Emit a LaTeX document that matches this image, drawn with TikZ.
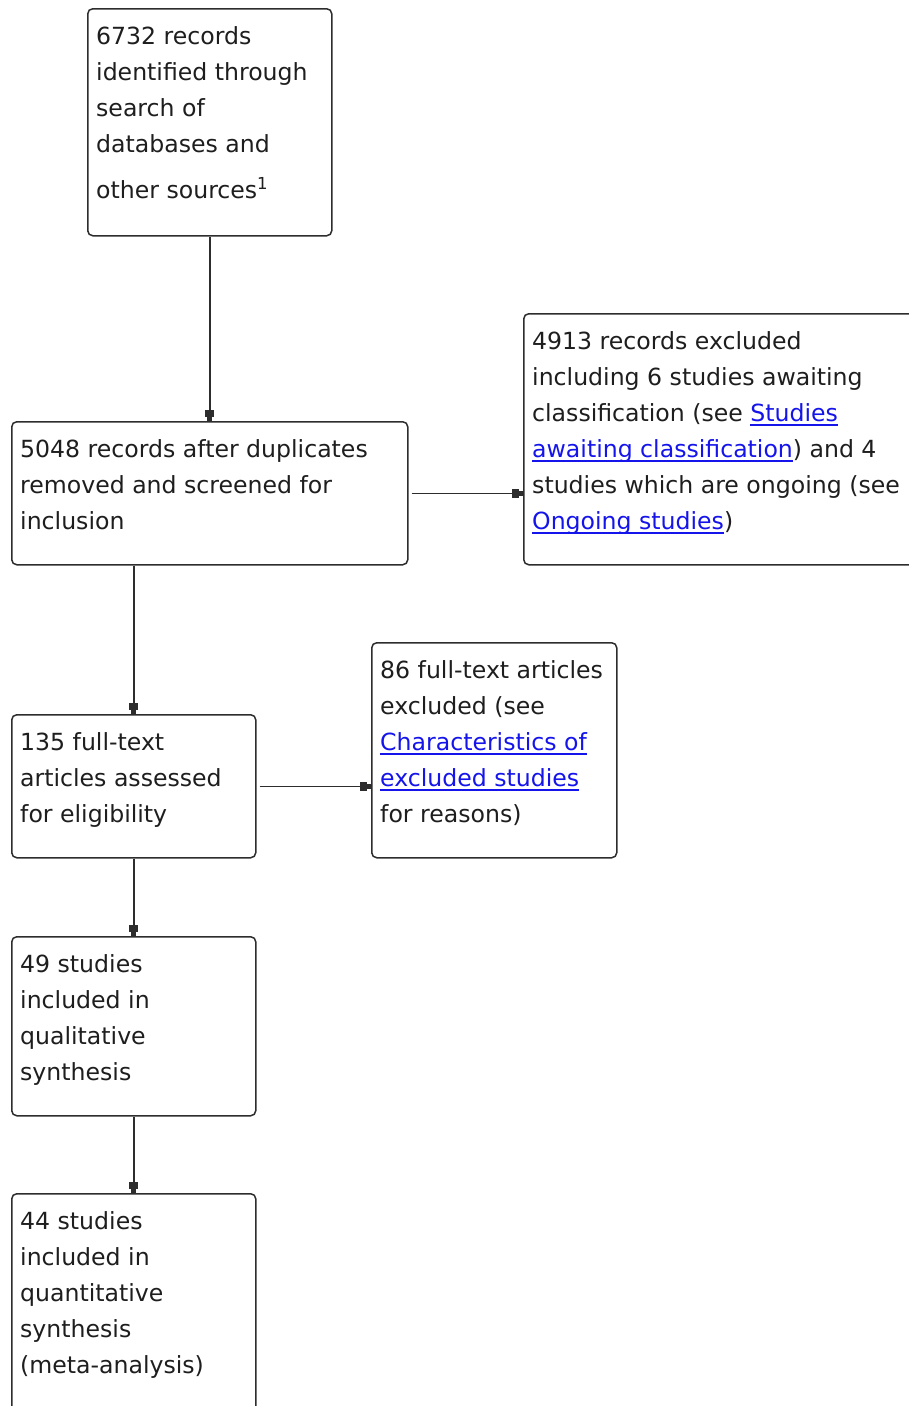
\documentclass[tikz,border=0pt]{standalone}
\usepackage{fontspec}
\setmainfont{DejaVu Sans}
\usetikzlibrary{arrows.meta}
\definecolor{linkblue}{RGB}{20,20,235}
\definecolor{edge}{RGB}{45,45,45}
\definecolor{ink}{RGB}{30,30,30}
\newsavebox{\lnkbox}
\newcommand{\lnk}[1]{\sbox{\lnkbox}{\color{linkblue}#1}\textcolor{linkblue}{\rlap{\rule[-3.6pt]{\wd\lnkbox}{1.3pt}}\usebox{\lnkbox}}}
\tikzset{
  box/.style={draw=edge, line width=1.5pt, rounded corners=5pt, anchor=north west, inner sep=0pt},
  txt/.style={anchor=north west, align=left, inner sep=0pt, text=ink, font=\fontsize{23.6}{36}\selectfont},
  arr/.style={draw=edge, line width=1.5pt, -{Rectangle[length=7pt,width=9pt] Rectangle[length=4pt,width=5pt]}}
}
\begin{document}
\begin{tikzpicture}[x=1pt,y=-1pt]
\clip (0,0) rectangle (909,1406);
\fill[white] (0,0) rectangle (909,1406);
% boxes
\node[box, minimum width=244pt, minimum height=227pt] (b1) at (87,8) {};
\node[box, minimum width=396pt, minimum height=143pt] (b2) at (11,421) {};
\node[box, minimum width=420pt, minimum height=251pt] (b3) at (523,313) {};
\node[box, minimum width=244pt, minimum height=143pt] (b4) at (11,714) {};
\node[box, minimum width=245pt, minimum height=215pt] (b5) at (371,642) {};
\node[box, minimum width=244pt, minimum height=179pt] (b6) at (11,936) {};
\node[box, minimum width=244pt, minimum height=240pt] (b7) at (11,1193) {};
% texts
\node[txt] (t1) at ([shift={(9,11.5)}]b1.north west) {\strut 6732 records\\identified through\\search of\\databases and\\[10pt]other sources\textsuperscript{1}};
\node[txt] (t2) at ([shift={(9,11.5)}]b2.north west) {\strut 5048 records after duplicates\\removed and screened for\\inclusion};
\node[txt] (t3) at ([shift={(9,11.5)}]b3.north west) {\strut 4913 records excluded\\including 6 studies awaiting\\classification (see \lnk{Studies}\\\lnk{awaiting classification}) and 4\\studies which are ongoing (see\\\lnk{Ongoing studies})};
\node[txt] (t4) at ([shift={(9,11.5)}]b4.north west) {\strut 135 full-text\\articles assessed\\for eligibility};
\node[txt] (t5) at ([shift={(9,11.5)}]b5.north west) {\strut 86 full-text articles\\excluded (see\\\lnk{Characteristics of}\\\lnk{excluded studies}\\for reasons)};
\node[txt] (t6) at ([shift={(9,11.5)}]b6.north west) {\strut 49 studies\\included in\\qualitative\\synthesis};
\node[txt] (t7) at ([shift={(9,11.5)}]b7.north west) {\strut 44 studies\\included in\\quantitative\\synthesis\\(meta-analysis)};
% connectors
\draw[arr] (b1.south) -- (b2.north);
\draw[arr, shorten <=3pt] (b2.east) -- (b2.east -| b3.west);
\draw[arr] (b2.south -| b4.north) -- (b4.north);
\draw[arr, shorten <=3pt] (b4.east) -- (b4.east -| b5.west);
\draw[arr] (b4.south) -- (b6.north);
\draw[arr] (b6.south) -- (b7.north);
\end{tikzpicture}
\end{document}
